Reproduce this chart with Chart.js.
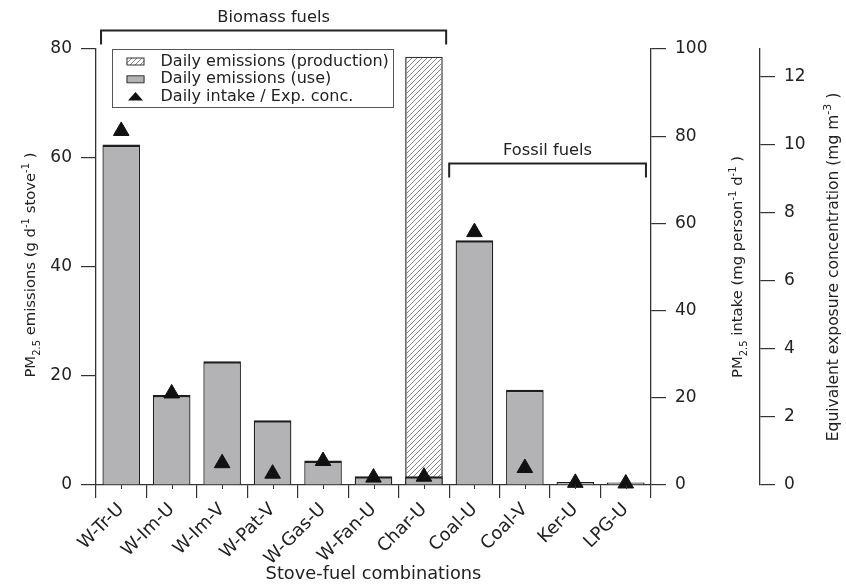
<!DOCTYPE html>
<html lang="en">
<head>
<meta charset="UTF-8">
<title>PM2.5 emissions and intake by stove-fuel combination</title>
<script src="https://cdn.jsdelivr.net/npm/chart.js@4.4.1/dist/chart.umd.min.js"></script>
<style>
    html, body { margin: 0; padding: 0; background: #fff; }
    #wrap { width: 846px; height: 585px; position: relative; }
</style>
</head>
<body>
<div id="wrap"><canvas id="chart"></canvas></div>
<script>
// values
const stoveFuels = ['W-Tr-U', 'W-Im-U', 'W-Im-V', 'W-Pat-V', 'W-Gas-U', 'W-Fan-U', 'Char-U', 'Coal-U', 'Coal-V', 'Ker-U', 'LPG-U'];
const emissionsUse = [62.5, 16.5, 22.7, 11.9, 4.5, 1.6, 1.6, 44.9, 17.5, 0.55, 0.45];
const emissionsProduction = [null, null, null, null, null, null, 78.6, null, null, null, null];
const dailyIntake = [81.2, 21.0, 5.0, 2.6, 5.5, 1.7, 1.9, 58.0, 3.9, 0.5, 0.35];
const emissionTicks = [0, 20, 40, 60, 80];
const intakeTicks = [0, 20, 40, 60, 80, 100];
const exposureTicks = [0, 2, 4, 6, 8, 10, 12];
const exposureMax = 12.82;
const fuelGroups = [
    { label: 'Biomass fuels', first: 0, last: 6 },
    { label: 'Fossil fuels', first: 7, last: 10 }
];

const FONT = '"DejaVu Sans", sans-serif';
const INK = '#222';
const AXIS = '#333';
Chart.defaults.font.family = FONT;
Chart.defaults.color = INK;

// diagonal hatching for the production bar
function hatch() {
    const n = 5;
    const c = document.createElement('canvas');
    c.width = n; c.height = n;
    const g = c.getContext('2d');
    g.strokeStyle = '#666';
    g.lineWidth = 0.8;
    g.beginPath();
    g.moveTo(0, n); g.lineTo(n, 0);
    g.moveTo(-1, 1); g.lineTo(1, -1);
    g.moveTo(n - 1, n + 1); g.lineTo(n + 1, n - 1);
    g.stroke();
    return g.createPattern(c, 'repeat');
}
const hatchFill = hatch();

// rotated title with sub/superscripts
function drawRich(ctx, parts, cx, cy, size) {
    const small = Math.round(size * 0.7);
    ctx.save();
    ctx.translate(cx, cy);
    ctx.rotate(-Math.PI / 2);
    let total = 0;
    const widths = parts.map(p => {
        ctx.font = (p.sub || p.sup ? small : size) + 'px ' + FONT;
        const w = ctx.measureText(p.t).width;
        total += w;
        return w;
    });
    let x = -total / 2;
    ctx.textAlign = 'left';
    ctx.textBaseline = 'alphabetic';
    ctx.fillStyle = INK;
    parts.forEach((p, i) => {
        ctx.font = (p.sub || p.sup ? small : size) + 'px ' + FONT;
        const dy = p.sub ? size * 0.3 : (p.sup ? -size * 0.42 : 0);
        ctx.fillText(p.t, x, size * 0.36 + dy);
        x += widths[i];
    });
    ctx.restore();
}

const titles = {
    y: [{ t: 'PM' }, { t: '2.5', sub: true }, { t: ' emissions (g d' }, { t: '-1', sup: true }, { t: ' stove' }, { t: '-1', sup: true }, { t: ' )' }],
    y2: [{ t: 'PM' }, { t: '2.5', sub: true }, { t: ' intake (mg person' }, { t: '-1', sup: true }, { t: ' d' }, { t: '-1', sup: true }, { t: ' )' }],
    y3: [{ t: 'Equivalent exposure concentration (mg m' }, { t: '-3', sup: true }, { t: ' )' }]
};

const decorations = {
    id: 'decorations',
    afterDraw(chart) {
        const ctx = chart.ctx;
        const area = chart.chartArea;
        const xs = chart.scales.x;
        const ys = chart.scales.y;
        const midY = (area.top + area.bottom) / 2;

        // axis titles
        drawRich(ctx, titles.y, chart.scales.y.left + 30, midY - 2, 14.8);
        drawRich(ctx, titles.y2, chart.scales.y2.left + 86, midY, 14.8);
        drawRich(ctx, titles.y3, chart.scales.y3.left + 72, midY, 15.5);

        // minor ticks at category centres
        ctx.save();
        ctx.strokeStyle = AXIS;
        ctx.lineWidth = 1;
        ctx.beginPath();
        stoveFuels.forEach((s, i) => {
            const x = Math.round(xs.getPixelForValue(i)) + 0.5;
            ctx.moveTo(x, area.bottom);
            ctx.lineTo(x, area.bottom + 4);
        });
        ctx.stroke();
        ctx.restore();

        // group brackets
        const cat = (xs.getPixelForValue(1) - xs.getPixelForValue(0));
        const opts = chart.options.plugins.decorations.brackets;
        fuelGroups.forEach((g, k) => {
            const o = opts[k];
            const x1 = xs.getPixelForValue(g.first) - o.padL * cat;
            const x2 = xs.getPixelForValue(g.last) + o.padR * cat;
            const yLine = ys.getPixelForValue(o.level);
            ctx.save();
            ctx.strokeStyle = INK;
            ctx.lineWidth = 2;
            ctx.beginPath();
            ctx.moveTo(x1, yLine + 14);
            ctx.lineTo(x1, yLine);
            ctx.lineTo(x2, yLine);
            ctx.lineTo(x2, yLine + 14);
            ctx.stroke();
            ctx.fillStyle = INK;
            ctx.font = '16.3px ' + FONT;
            ctx.textAlign = 'center';
            ctx.textBaseline = 'middle';
            ctx.fillText(g.label, (x1 + x2) / 2, yLine - 13);
            ctx.restore();
        });

        // legend box inside the plot
        const lx = area.left + 16.5;
        const ly = area.top + 0.5;
        ctx.save();
        ctx.strokeStyle = '#555';
        ctx.lineWidth = 1;
        ctx.strokeRect(lx, ly, 281, 58);
        ctx.font = '16px ' + FONT;
        ctx.textAlign = 'left';
        ctx.textBaseline = 'middle';
        const rows = [chart.data.datasets[2], chart.data.datasets[1], chart.data.datasets[0]];
        rows.forEach((ds, i) => {
            const cy = ly + 12 + i * 17.8;
            const sx = lx + 14;
            if (i === 0 || i === 1) {
                ctx.fillStyle = i === 0 ? hatchFill : '#b3b3b6';
                ctx.fillRect(sx, cy - 3.5, 18, 7);
                ctx.strokeStyle = '#333';
                ctx.lineWidth = 1;
                ctx.strokeRect(sx + 0.5, cy - 3.5, 17, 7);
            } else {
                ctx.fillStyle = '#111';
                ctx.beginPath();
                ctx.moveTo(sx + 9, cy - 5);
                ctx.lineTo(sx + 16.5, cy + 3.5);
                ctx.lineTo(sx + 1.5, cy + 3.5);
                ctx.closePath();
                ctx.fill();
            }
            ctx.fillStyle = INK;
            ctx.fillText(ds.label, lx + 48, cy);
        });
        ctx.restore();
    }
};

const tickFont = { size: 17, family: FONT };

new Chart(document.getElementById('chart'), {
    type: 'bar',
    data: {
        labels: stoveFuels,
        datasets: [
            {
                type: 'line',
                label: 'Daily intake / Exp. conc.',
                data: dailyIntake,
                yAxisID: 'y2',
                showLine: false,
                pointStyle: 'triangle',
                pointRadius: 9,
                pointHoverRadius: 9,
                pointBackgroundColor: '#111',
                pointBorderColor: '#111',
                pointBorderWidth: 1,
                clip: false,
                order: 0
            },
            {
                label: 'Daily emissions (use)',
                data: emissionsUse,
                yAxisID: 'y',
                backgroundColor: '#b3b3b6',
                borderColor: '#1e1e1e',
                borderWidth: { top: 2.5, left: 1.3, right: 1.3, bottom: 0 },
                borderSkipped: 'start',
                grouped: false,
                barPercentage: 0.745,
                categoryPercentage: 1,
                order: 1
            },
            {
                label: 'Daily emissions (production)',
                data: emissionsProduction,
                yAxisID: 'y',
                backgroundColor: hatchFill,
                borderColor: '#333',
                borderWidth: { top: 1.3, left: 1.3, right: 1.3, bottom: 0 },
                borderSkipped: 'start',
                grouped: false,
                barPercentage: 0.745,
                categoryPercentage: 1,
                order: 2
            }
        ]
    },
    options: {
        responsive: true,
        maintainAspectRatio: false,
        animation: false,
        layout: { padding: { top: 49, left: 0, right: 0, bottom: 0 } },
        plugins: {
            legend: { display: false },
            tooltip: { enabled: false },
            decorations: {
                brackets: [
                    { level: 83.4, padL: 0.40, padR: 0.44 },
                    { level: 59.0, padL: 0.50, padR: 0.40 }
                ]
            }
        },
        scales: {
            x: {
                offset: true,
                grid: { offset: true, drawOnChartArea: false, tickLength: 13, color: AXIS, lineWidth: 1.2 },
                border: { color: AXIS, width: 1.3 },
                ticks: { autoSkip: false, maxRotation: 45, minRotation: 45, padding: 1, font: { size: 18, family: FONT }, color: INK },
                title: { display: true, text: 'Stove-fuel combinations', font: { size: 17.8, family: FONT }, color: INK, padding: { top: 0, bottom: 0 } },
                afterFit: s => { s.height = 100; }
            },
            y: {
                position: 'left',
                min: emissionTicks[0],
                max: emissionTicks[emissionTicks.length - 1],
                grid: { drawOnChartArea: false, tickLength: 15, color: AXIS, lineWidth: 1.2 },
                border: { color: AXIS, width: 1.3 },
                ticks: { padding: 9, font: tickFont, color: INK },
                afterBuildTicks: s => { s.ticks = emissionTicks.map(v => ({ value: v })); },
                afterFit: s => { s.width = 96; }
            },
            y2: {
                position: 'right',
                weight: 0,
                min: intakeTicks[0],
                max: intakeTicks[intakeTicks.length - 1],
                grid: { drawOnChartArea: false, tickLength: 15, color: AXIS, lineWidth: 1.2 },
                border: { color: AXIS, width: 1.3 },
                ticks: { padding: 9, font: tickFont, color: INK },
                afterBuildTicks: s => { s.ticks = intakeTicks.map(v => ({ value: v })); },
                afterFit: s => { s.width = 109; }
            },
            y3: {
                position: 'right',
                weight: 1,
                min: 0,
                max: exposureMax,
                grid: { drawOnChartArea: false, tickLength: 15, color: AXIS, lineWidth: 1.2 },
                border: { color: AXIS, width: 1.3 },
                ticks: { padding: 9, font: tickFont, color: INK },
                afterBuildTicks: s => { s.ticks = exposureTicks.map(v => ({ value: v })); },
                afterFit: s => { s.width = 86; }
            }
        }
    },
    plugins: [decorations]
});
</script>
</body>
</html>
